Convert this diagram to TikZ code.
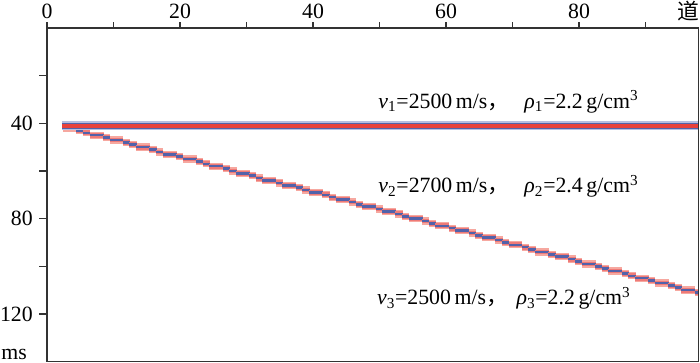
\documentclass[tikz,border=0pt]{standalone}
\usepackage{fontspec}
\setmainfont{Liberation Serif}
\newfontfamily\cjk{Noto Sans CJK SC}
\usetikzlibrary{positioning}

\definecolor{tracered}{HTML}{E8413C}
\definecolor{traceblue}{HTML}{5262AA}
\definecolor{palered}{HTML}{F6A8A0}
\definecolor{paleblue}{HTML}{B8BEE0}

\tikzset{
  axisline/.style={draw=black!80, line width=1pt},
  tickmark/.style={draw=black!80, line width=0.8pt},
  ticklabel/.style={font=\fontsize{15.5}{18}\selectfont, inner sep=0pt},
  layerlabel/.style={font=\fontsize{15.5}{18}\selectfont, inner sep=0pt, anchor=base west}
}

\begin{document}
\begin{tikzpicture}[x=0.16625cm, y=-0.059575cm]
  \useasboundingbox (-7.068,-11.75) rectangle (98.195,140.58);

  % dipping reflector, one step per trace
  \foreach \i in {3,...,98} {
    \pgfmathsetmacro\tt{round(41.5+0.732*(\i-2.9))}
    \pgfmathsetmacro\xe{min(\i+0.5,98)}
    \draw[palered, line width=5.2pt] (\i-0.6,\tt) -- (\xe,\tt);
  }
  \foreach \i in {3,...,98} {
    \pgfmathsetmacro\tt{round(41.5+0.732*(\i-2.9))}
    \pgfmathsetmacro\xe{min(\i+0.5,98)}
    \draw[tracered!70, line width=3.4pt] (\i-0.6,\tt) -- (\xe,\tt);
    \draw[traceblue, line width=1.8pt] (\i-0.6,\tt) -- (\xe,\tt);
  }

  % flat reflector
  \draw[paleblue, line width=6.4pt] (2.3,41.1) -- (98,41.1);
  \draw[traceblue, line width=4.6pt] (2.3,41.1) -- (98,41.1);
  \draw[tracered, line width=2.5pt] (2.3,41.1) -- (98,41.1);

  % frame and ticks
  \draw[axisline] (0,0) rectangle (98,140);
  \foreach \k in {0,10,...,90}
    \draw[tickmark] (\k,0) -- ++(0,-2.6);
  \foreach \m in {20,40,...,120}
    \draw[tickmark] (0,\m) -- ++(-1.25,0);

  \foreach \k in {0,20,...,80}
    \node[ticklabel] (tr\k) at (\k,-7.1) {\k};
  \node[ticklabel, anchor=east] (trunit) at (98.195,-7.1) {\cjk 道};
  \foreach \m in {40,80,120}
    \node[ticklabel, anchor=east] (t\m) at (-2.1,\m) {\m};
  \node[ticklabel, anchor=base west] (tunit) at (-6.9,139) {ms};

  % layer parameters
  \node[layerlabel] (layer1) at (49.8,33.6)
    {\textit{v}\textsubscript{1}=2500\,m/s{\cjk ，}\hspace{0.7em}\textit{ρ}\textsubscript{1}=2.2\,g/cm\textsuperscript{3}};
  \node[layerlabel] (layer2) at (49.8,69.2)
    {\textit{v}\textsubscript{2}=2700\,m/s{\cjk ，}\hspace{0.7em}\textit{ρ}\textsubscript{2}=2.4\,g/cm\textsuperscript{3}};
  \node[layerlabel] (layer3) at (49.6,116.2)
    {\textit{v}\textsubscript{3}=2500\,m/s{\cjk ，}\hspace{0.4em}\textit{ρ}\textsubscript{3}=2.2\,g/cm\textsuperscript{3}};
\end{tikzpicture}
\end{document}
